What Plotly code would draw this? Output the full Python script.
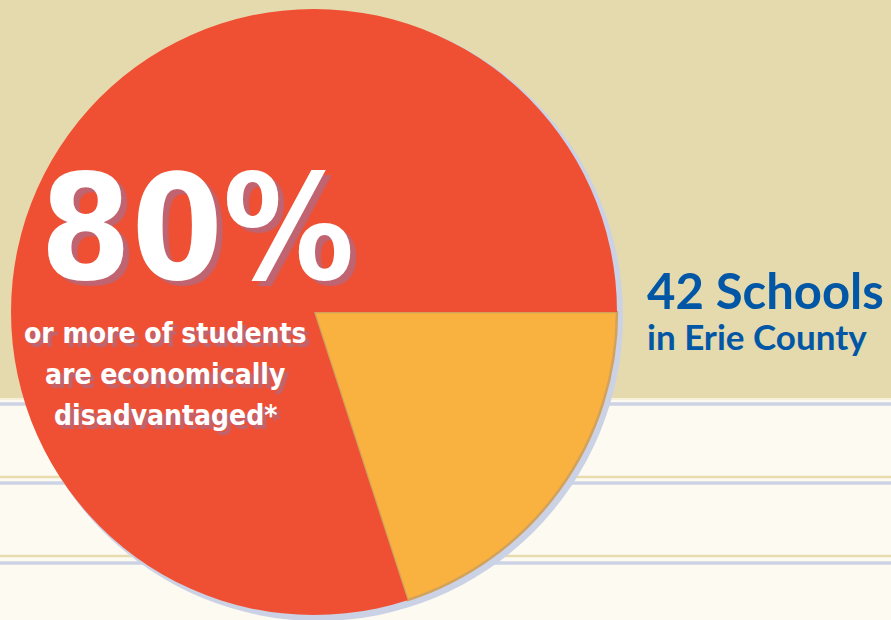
import plotly.graph_objects as go

W, H = 891, 620

# Data
slice_labels = ["Other schools", "80% or more economically disadvantaged"]
slice_values = [20, 80]
slice_colors = ["#F9B13F", "#EF5033"]

headline = "80%"
sub_lines = ["or more of students", "are economically", "disadvantaged*"]
side_title = "42 Schools"
side_sub = "in Erie County"

def px(x):
    return x / W

def py(y):
    return 1 - y / H

fig = go.Figure()

fig.add_trace(go.Pie(
    labels=slice_labels,
    values=slice_values,
    sort=False,
    direction="clockwise",
    rotation=90,
    marker=dict(colors=slice_colors,
                line=dict(color=["#D1A25E", "#EF5033"], width=[2.5, 0])),
    textinfo="none",
    hoverinfo="label+percent",
    showlegend=False,
    domain=dict(x=[px(11), px(617)], y=[py(615), py(9)]),
))

shapes = []
shapes.append(dict(type="rect", xref="paper", yref="paper", x0=0, x1=1,
                   y0=py(398), y1=1, fillcolor="#E4DAAD", line=dict(width=0), layer="below"))
shapes.append(dict(type="line", xref="paper", yref="paper", x0=0, x1=1,
                   y0=py(399), y1=py(399), line=dict(color="#F3EDD2", width=1.5), layer="below"))
for yb in [404, 483, 563]:
    shapes.append(dict(type="line", xref="paper", yref="paper", x0=0, x1=1,
                       y0=py(yb), y1=py(yb), line=dict(color="#CDD3E5", width=3.5), layer="below"))
for yt in [477, 556]:
    shapes.append(dict(type="line", xref="paper", yref="paper", x0=0, x1=1,
                       y0=py(yt), y1=py(yt), line=dict(color="#E8DCAE", width=2.5), layer="below"))
shapes.append(dict(type="circle", xref="paper", yref="paper",
                   x0=px(14), x1=px(623), y0=py(621), y1=py(11),
                   fillcolor="#CBD2E6", line=dict(width=0), layer="below"))

annotations = []
big_font = "DejaVu Sans Condensed, sans-serif"
annotations.append(dict(text="<b>" + headline + "</b>", xref="paper", yref="paper",
                        x=px(197), y=py(228), xanchor="center", yanchor="middle",
                        showarrow=False,
                        font=dict(family=big_font, size=146, color="#FFFFFF",
                                  shadow="6px 5px 1px #BF6470")))
for i, line in enumerate(sub_lines):
    yc = 333 + i * 41
    annotations.append(dict(text="<b>" + line + "</b>", xref="paper", yref="paper",
                            x=px(165), y=py(yc), xanchor="center", yanchor="middle",
                            showarrow=False,
                            font=dict(family=big_font, size=28, color="#FFFFFF",
                                      shadow="4px 4px 1px #BF6470")))

side_font = "Lato, Noto Sans, sans-serif"
annotations.append(dict(text="<b>" + side_title + "</b>", xref="paper", yref="paper",
                        x=px(645), y=py(290), xanchor="left", yanchor="middle",
                        showarrow=False, font=dict(family=side_font, size=49, color="#0156A5")))
annotations.append(dict(text="<b>" + side_sub + "</b>", xref="paper", yref="paper",
                        x=px(645), y=py(336), xanchor="left", yanchor="middle",
                        showarrow=False, font=dict(family=side_font, size=35, color="#0156A5")))

fig.update_layout(
    width=W, height=H,
    margin=dict(l=0, r=0, t=0, b=0),
    paper_bgcolor="#FDFAF2",
    plot_bgcolor="#FDFAF2",
    shapes=shapes,
    annotations=annotations,
    showlegend=False,
)

fig.write_html("out.html", config={"displayModeBar": False},
               post_script="document.body.style.margin='0';")
